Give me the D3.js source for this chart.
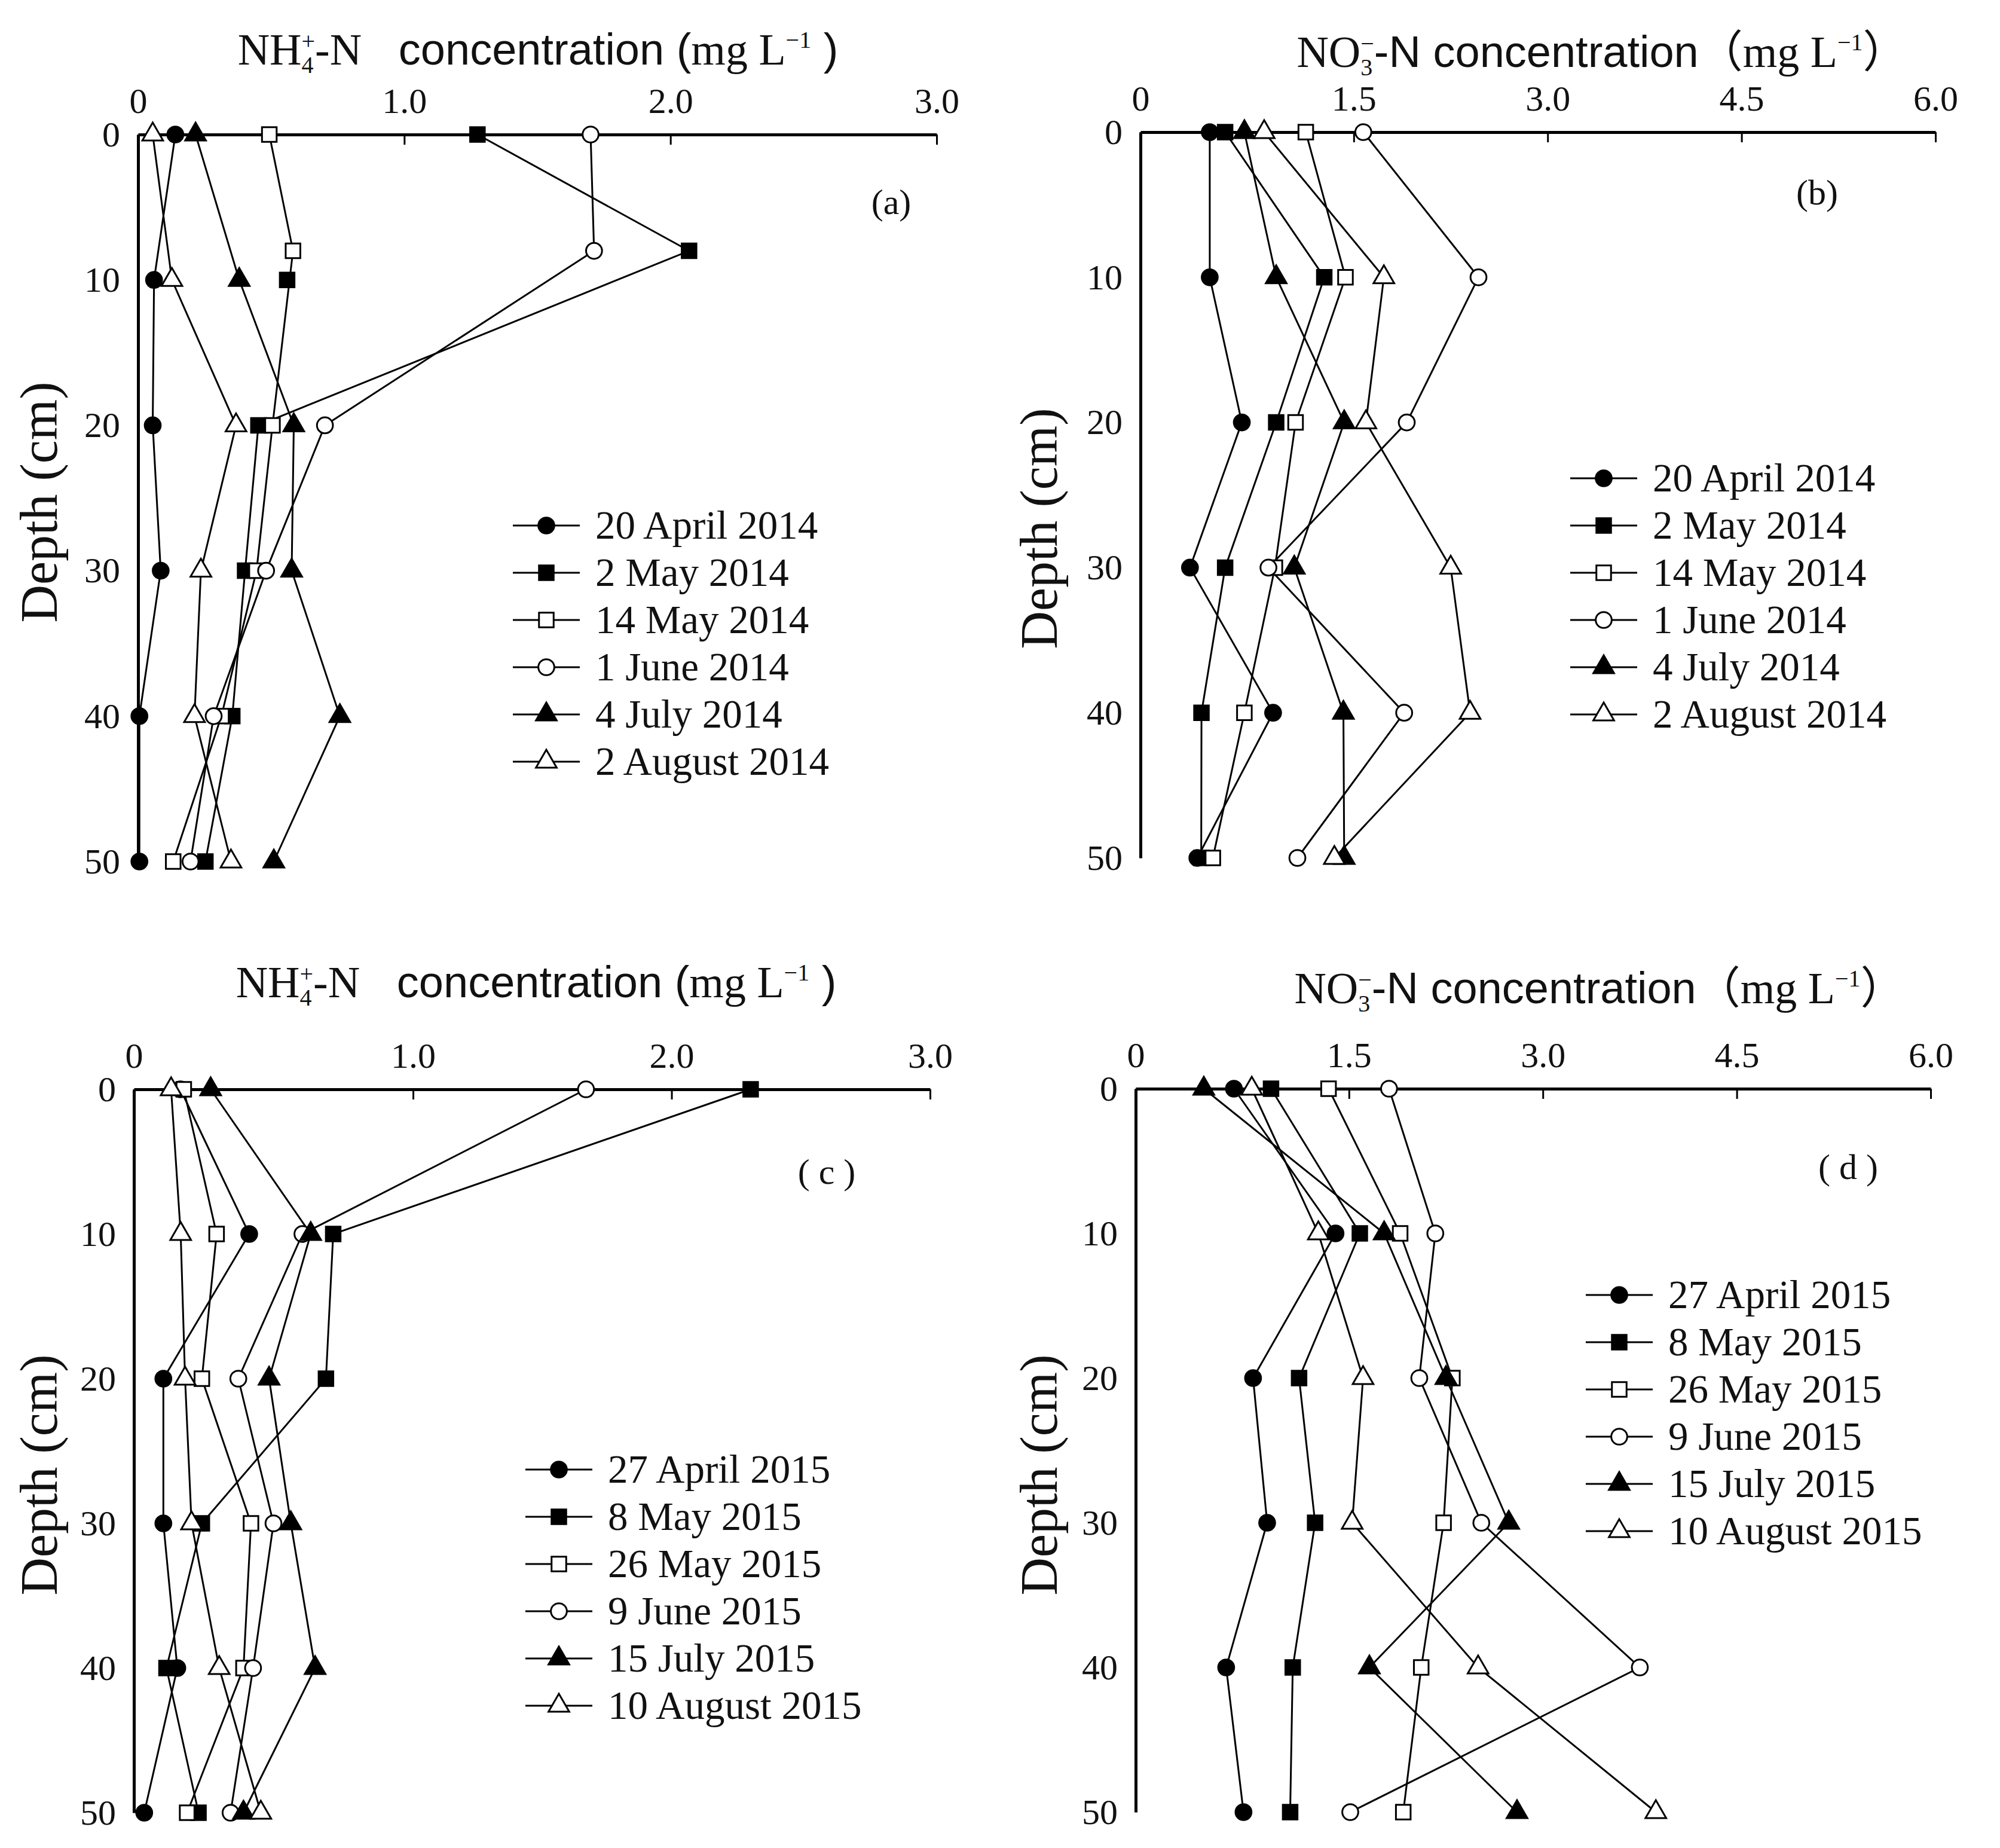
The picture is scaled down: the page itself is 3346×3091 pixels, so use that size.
<!DOCTYPE html>
<html>
<head>
<meta charset="utf-8">
<script src="https://cdn.jsdelivr.net/npm/d3@7"></script>
<style>
  body { margin: 0; background: #fff; }
</style>
</head>
<body>
<div id="chart"></div>
<script>
// ---- data ----
const depths = [0, 10, 20, 30, 40, 50];
// in panel (a) three profiles have their second sample plotted near 8 cm
const depthsA8 = [0, 8, 20, 30, 40, 50];

const datesA = ["20 April 2014", "2 May 2014", "14 May 2014", "1 June 2014", "4 July 2014", "2 August 2014"];
const datesC = ["27 April 2015", "8 May 2015", "26 May 2015", "9 June 2015", "15 July 2015", "10 August 2015"];

// (a) NH4+-N, 2014
const a_apr20 = [0.14, 0.06, 0.055, 0.085, 0.005, 0.005];
const a_may2 = [1.275, 2.07, 0.452, 0.402, 0.354, 0.253];
const a_may14 = [0.493, 0.582, 0.505, 0.445, 0.313, 0.132];
const a_jun1 = [1.70, 1.713, 0.702, 0.481, 0.284, 0.197];
const a_jul4 = [0.216, 0.38, 0.585, 0.577, 0.758, 0.51];
const a_aug2 = [0.055, 0.127, 0.368, 0.236, 0.212, 0.349];
// lone 2 May marker at 10 cm
const a_extra = [{ series: 1, depth: 10, value: 0.56 }];

// (b) NO3--N, 2014
const b_apr20 = [0.386, 0.386, 0.634, 0.233, 0.876, 0.29];
const b_may2 = [0.505, 1.272, 0.90, 0.505, 0.322, 0.32];
const b_may14 = [1.129, 1.436, 1.05, 0.89, 0.654, 0.41];
const b_jun1 = [1.574, 2.465, 1.91, 0.84, 1.89, 1.064];
const b_jul4 = [0.654, 0.90, 1.426, 1.04, 1.42, 1.426];
const b_aug2 = [0.807, 1.733, 1.594, 2.25, 2.40, 1.35];

// (c) NH4+-N, 2015
const c_apr27 = [0.10, 0.366, 0.034, 0.034, 0.088, -0.04];
const c_may8 = [2.306, 0.691, 0.663, 0.183, 0.046, 0.17];
const c_may26 = [0.113, 0.24, 0.183, 0.373, 0.344, 0.126];
const c_jun9 = [1.669, 0.572, 0.324, 0.46, 0.381, 0.294];
const c_jul15 = [0.217, 0.604, 0.443, 0.527, 0.621, 0.344];
const c_aug10 = [0.064, 0.101, 0.118, 0.143, 0.25, 0.411];

// (d) NO3--N, 2015
const d_apr27 = [0.61, 1.396, 0.758, 0.867, 0.55, 0.684];
const d_may8 = [0.897, 1.584, 1.114, 1.238, 1.065, 1.045];
const d_may26 = [1.342, 1.896, 2.30, 2.232, 2.059, 1.92];
const d_jun9 = [1.81, 2.168, 2.044, 2.524, 3.75, 1.51];
const d_jul15 = [0.377, 1.772, 2.25, 2.736, 1.658, 2.80];
const d_aug10 = [0.748, 1.263, 1.609, 1.525, 2.499, 3.874];

// axis ticks; the x axes of (b), (c), (d) start a little left of 0 in the original
const ticksNH4 = [0, 1, 2, 3];
const ticksNH4c = [-0.08, 1, 2, 3];
const ticksNO3 = [-0.15, 1.5, 3, 4.5, 6];
const labelsNH4 = ["0", "1.0", "2.0", "3.0"];
const labelsNO3 = ["0", "1.5", "3.0", "4.5", "6.0"];

// ---- drawing ----
const W = 3346, H = 3091;
const serif = "'Liberation Serif', 'DejaVu Serif', serif";
const sans = "'Liberation Sans', Arial, sans-serif";

const svg = d3.select("#chart").append("svg")
  .attr("width", W).attr("height", H)
  .style("background", "#fff");

const markerType = [d3.symbolCircle, d3.symbolSquare, d3.symbolSquare, d3.symbolCircle, d3.symbolTriangle, d3.symbolTriangle];
const markerSize = [560, 600, 600, 560, 520, 520];
const markerFill = ["#000", "#000", "#fff", "#fff", "#000", "#fff"];

function makeSeries(names, valueArrays, depthArrays) {
  return names.map((name, i) => ({
    name: name,
    points: valueArrays[i].map((v, j) => ({ v: v, d: depthArrays[i][j] }))
  }));
}

function marker(g, i, px, py) {
  g.append("path")
    .attr("transform", "translate(" + px + "," + py + ")")
    .attr("d", d3.symbol().type(markerType[i]).size(markerSize[i]))
    .attr("fill", markerFill[i])
    .attr("stroke", "#000")
    .attr("stroke-width", 3);
}

function drawPanel(p) {
  const g = svg.append("g");
  const x = d3.scaleLinear().domain(p.xDomain).range([p.left, p.right]);
  const y = d3.scaleLinear().domain([0, 50]).range([p.top, p.bottom]);

  const xAxis = g.append("g")
    .attr("transform", "translate(0," + p.top + ")")
    .call(d3.axisTop(x).tickValues(p.ticks)
      .tickFormat((d, i) => p.tickLabels[i])
      .tickSizeInner(-17).tickSizeOuter(0).tickPadding(36));
  xAxis.select(".domain").attr("stroke-width", 5);
  xAxis.selectAll(".tick line").attr("stroke-width", 3);
  xAxis.selectAll("text").attr("font-family", serif).attr("font-size", 60).attr("fill", "#111");

  const yAxis = g.append("g")
    .attr("transform", "translate(" + p.left + ",0)")
    .call(d3.axisLeft(y).tickValues(depths).tickSize(0).tickPadding(30));
  yAxis.select(".domain").attr("stroke-width", 5);
  yAxis.selectAll("text").attr("font-family", serif).attr("font-size", 60).attr("fill", "#111");

  const line = d3.line().x(d => x(d.v)).y(d => y(d.d));
  p.series.forEach(s => {
    g.append("path")
      .datum(s.points)
      .attr("fill", "none")
      .attr("stroke", "#000")
      .attr("stroke-width", 3)
      .attr("d", line);
  });
  p.series.forEach((s, i) => {
    s.points.forEach(pt => marker(g, i, x(pt.v), y(pt.d)));
  });
  (p.extra || []).forEach(e => marker(g, e.series, x(e.value), y(e.depth)));

  // legend
  p.series.forEach((s, i) => {
    const ly = p.legendY + i * 79;
    g.append("line")
      .attr("x1", p.legendX).attr("x2", p.legendX + 112)
      .attr("y1", ly).attr("y2", ly)
      .attr("stroke", "#000").attr("stroke-width", 3);
    marker(g, i, p.legendX + 56, ly);
    g.append("text")
      .attr("x", p.legendX + 138).attr("y", ly + 22)
      .attr("font-family", serif).attr("font-size", 67).attr("fill", "#111")
      .text(s.name);
  });

  // panel letter
  g.append("text")
    .attr("x", p.letterX).attr("y", p.letterY)
    .attr("text-anchor", "middle")
    .attr("font-family", serif).attr("font-size", 60).attr("fill", "#111")
    .text(p.letter);

  // depth label
  g.append("text")
    .attr("transform", "translate(" + p.depthX + "," + p.depthY + ") rotate(-90)")
    .attr("text-anchor", "middle")
    .attr("font-family", serif).attr("font-size", 88).attr("fill", "#111")
    .text("Depth (cm)");

  // title
  const t = g.append("text")
    .attr("x", p.titleX).attr("y", p.titleY)
    .attr("text-anchor", "middle")
    .attr("font-size", 74).attr("fill", "#111");
  if (p.kind === "NH4") {
    t.append("tspan").attr("font-family", serif).text("NH");
    t.append("tspan").attr("font-family", serif).attr("font-size", 40).attr("dy", 14).text("4");
    t.append("tspan").attr("font-family", serif).attr("font-size", 40).attr("dx", -20).attr("dy", -40).text("+");
    t.append("tspan").attr("font-family", serif).attr("dy", 26).text("-N");
    t.append("tspan").attr("font-family", sans).text("\u00a0\u00a0 concentration\u00a0(");
    t.append("tspan").attr("font-family", serif).text("mg L");
    t.append("tspan").attr("font-family", serif).attr("font-size", 40).attr("dy", -28).text("\u22121");
    t.append("tspan").attr("font-family", sans).attr("dy", 28).text("\u00a0)");
  } else {
    t.append("tspan").attr("font-family", serif).text("NO");
    t.append("tspan").attr("font-family", serif).attr("font-size", 40).attr("dy", 14).text("3");
    t.append("tspan").attr("font-family", serif).attr("font-size", 40).attr("dx", -20).attr("dy", -40).text("\u2212");
    t.append("tspan").attr("font-family", sans).attr("dy", 26).text("-N concentration");
    t.append("tspan").attr("font-family", "'Noto Sans CJK SC', sans-serif").text("\uff08");
    t.append("tspan").attr("font-family", serif).text("mg L");
    t.append("tspan").attr("font-family", serif).attr("font-size", 40).attr("dy", -28).text("\u22121");
    t.append("tspan").attr("font-family", "'Noto Sans CJK SC', sans-serif").attr("dy", 28).text("\uff09");
  }
}

const panels = [
  {
    kind: "NH4", letter: "(a)",
    xDomain: [0, 3], ticks: ticksNH4, tickLabels: labelsNH4,
    left: 231, right: 1567, top: 225, bottom: 1441,
    series: makeSeries(datesA,
      [a_apr20, a_may2, a_may14, a_jun1, a_jul4, a_aug2],
      [depths, depthsA8, depthsA8, depthsA8, depths, depths]),
    extra: a_extra,
    legendX: 858, legendY: 879,
    letterX: 1491, letterY: 358,
    depthX: 95, depthY: 840,
    titleX: 900, titleY: 108
  },
  {
    kind: "NO3", letter: "(b)",
    xDomain: [-0.15, 6], ticks: ticksNO3, tickLabels: labelsNO3,
    left: 1908, right: 3238, top: 221, bottom: 1435,
    series: makeSeries(datesA,
      [b_apr20, b_may2, b_may14, b_jun1, b_jul4, b_aug2],
      [depths, depths, depths, depths, depths, depths]),
    legendX: 2627, legendY: 800,
    letterX: 3040, letterY: 342,
    depthX: 1768, depthY: 884,
    titleX: 2680, titleY: 112
  },
  {
    kind: "NH4", letter: "( c )",
    xDomain: [-0.08, 3], ticks: ticksNH4c, tickLabels: labelsNH4,
    left: 224, right: 1556, top: 1822, bottom: 3032,
    series: makeSeries(datesC,
      [c_apr27, c_may8, c_may26, c_jun9, c_jul15, c_aug10],
      [depths, depths, depths, depths, depths, depths]),
    legendX: 879, legendY: 2458,
    letterX: 1383, letterY: 1980,
    depthX: 95, depthY: 2467,
    titleX: 897, titleY: 1668
  },
  {
    kind: "NO3", letter: "( d )",
    xDomain: [-0.15, 6], ticks: ticksNO3, tickLabels: labelsNO3,
    left: 1900, right: 3230, top: 1821, bottom: 3031,
    series: makeSeries(datesC,
      [d_apr27, d_may8, d_may26, d_jun9, d_jul15, d_aug10],
      [depths, depths, depths, depths, depths, depths]),
    legendX: 2653, legendY: 2166,
    letterX: 3092, letterY: 1972,
    depthX: 1768, depthY: 2467,
    titleX: 2676, titleY: 1678
  }
];

panels.forEach(drawPanel);
</script>
</body>
</html>
